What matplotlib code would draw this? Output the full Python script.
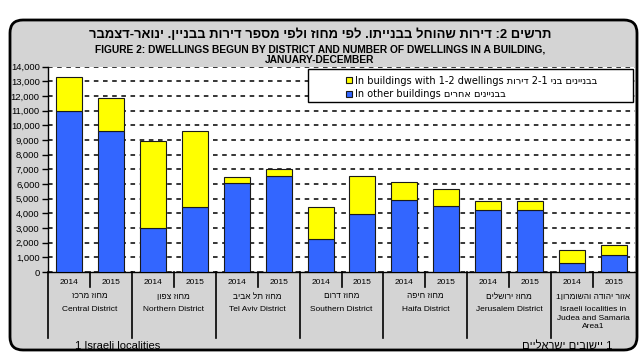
import re
import numpy as np
import matplotlib
matplotlib.use("Agg")
import matplotlib.pyplot as plt
import matplotlib.transforms as mtransforms
from matplotlib.patches import FancyBboxPatch, Rectangle
from matplotlib.lines import Line2D
from matplotlib import font_manager as fm

# data
years = ["2014", "2015"]
districts_he = ["מחוז מרכז", "מחוז צפון", "מחוז תל אביב", "מחוז דרום",
                "מחוז חיפה", "מחוז ירושלים", "אזור יהודה והשומרון1"]
districts_en = ["Central District", "Northern District", "Tel Aviv District",
                "Southern District", "Haifa District", "Jerusalem District",
                "Israeli localities in\nJudea and Samaria\nArea1"]
other_bldg = [11000, 9610, 3030, 4400, 6060, 6560, 2280, 3940,
              4900, 4510, 4240, 4240, 640, 1140]
small_bldg = [2320, 2230, 5920, 5190, 430, 430, 2120, 2600,
              1250, 1120, 590, 590, 840, 710]
yticks = list(range(0, 14001, 1000))

names = {f.name for f in fm.fontManager.ttflist}
NARROW = "Liberation Sans Narrow" if "Liberation Sans Narrow" in names else "Liberation Sans"
FAM = [NARROW, "Liberation Sans", "DejaVu Sans"]
plt.rcParams["font.family"] = ["Liberation Sans", "DejaVu Sans"]


def vis(s):
    # crude visual ordering for hebrew (matplotlib has no bidi)
    r = s[::-1]
    return re.sub(r"[0-9A-Za-z]+(?:[-,.:][0-9A-Za-z]+)*", lambda m: m.group(0)[::-1], r)


def fx(px):
    return px / 640.0


def fy(py):
    return 1 - py / 360.0


fig = plt.figure(figsize=(6.4, 3.6), dpi=100)
fig.patch.set_facecolor("white")

frame = FancyBboxPatch((0.10, 0.10), 6.27, 3.30, boxstyle="round,pad=0,rounding_size=0.13",
                       transform=fig.dpi_scale_trans, fc="#d4d4d4", ec="black", lw=2, zorder=0)
fig.add_artist(frame)

ax = fig.add_axes([fx(48), fy(272), fx(635) - fx(48), fy(66.7) - fy(272)])
ax.set_zorder(1)
ax.set_facecolor("white")

x = np.arange(len(other_bldg))
b1 = ax.bar(x, other_bldg, 0.62, color="#3366ff", edgecolor="#1a1a1a", lw=0.8, zorder=3)
b2 = ax.bar(x, small_bldg, 0.62, bottom=other_bldg, color="#ffff00",
            edgecolor="#1a1a1a", lw=0.8, zorder=3)

ax.set_xlim(-0.5, len(x) - 0.5)
ax.set_ylim(0, 14000)
ax.set_yticks(yticks)
ax.set_yticklabels([f"{v:,}" for v in yticks], fontsize=6.8)
ax.set_xticks([])
ax.yaxis.grid(True, linestyle=(0, (3, 3)), color="black", lw=1.1)
ax.set_axisbelow(True)
ax.tick_params(axis="y", length=4, width=1, pad=2)
for s in ["top", "right"]:
    ax.spines[s].set_visible(False)
for s in ["left", "bottom"]:
    ax.spines[s].set_linewidth(1)

# category axis
tr = mtransforms.blended_transform_factory(ax.transData, fig.transFigure)
for g in range(len(districts_en)):
    xs = -0.5 + 2 * g
    fig.add_artist(Line2D([xs, xs], [fy(272), fy(338)], transform=tr, color="black", lw=1.2))
    fig.add_artist(Line2D([xs + 1, xs + 1], [fy(272), fy(287)], transform=tr, color="black", lw=1.2))
    for k, yr in enumerate(years):
        fig.text(2 * g + k, fy(283), yr, transform=tr, ha="center", va="center",
                 fontsize=6, family=FAM)
    fig.text(2 * g + 0.5, fy(297), vis(districts_he[g]), transform=tr, ha="center",
             va="center", fontsize=6, family=FAM)
    fig.text(2 * g + 0.5, fy(306), districts_en[g], transform=tr, ha="center",
             va="top", fontsize=6, family=FAM, linespacing=1.35)

# titles
fig.text(fx(320), fy(35), vis("תרשים 2: דירות שהוחל בבנייתו. לפי מחוז ולפי מספר דירות בבניין. ינואר-דצמבר"),
         ha="center", va="center", fontsize=9.4, fontweight="bold", family=FAM)
fig.text(fx(320), fy(49), "FIGURE 2: DWELLINGS BEGUN BY DISTRICT AND NUMBER OF DWELLINGS IN A BUILDING,",
         ha="center", va="center", fontsize=7.4, fontweight="bold", family=FAM)
fig.text(fx(320), fy(60), "JANUARY-DECEMBER", ha="center", va="center", fontsize=7.4,
         fontweight="bold", family=FAM)

# legend
fig.add_artist(Rectangle((fx(308), fy(102)), fx(633) - fx(308), fy(69) - fy(102),
                         transform=fig.transFigure, fc="white", ec="black", lw=1, zorder=5))
leg = fig.legend([b2, b1],
                 ["In buildings with 1-2 dwellings " + vis("בבניינים בני 2-1 דירות"),
                  "In other buildings " + vis("בבניינים אחרים")],
                 loc="upper left", bbox_to_anchor=(fx(338), fy(68)), bbox_transform=fig.transFigure,
                 frameon=False, handlelength=0.6, handleheight=0.6,
                 handletextpad=0.3, labelspacing=0.35, borderpad=0.3,
                 prop={"family": ["DejaVu Sans"], "size": 7})
leg.set_zorder(6)

# footnotes
fig.text(fx(75), fy(346), "1 Israeli localities", ha="left", va="center", fontsize=8, family=FAM)
fig.text(fx(612), fy(346), vis("1 יישובים ישראליים"), ha="right", va="center", fontsize=8, family=FAM)

fig.savefig("out.png", dpi=100)
